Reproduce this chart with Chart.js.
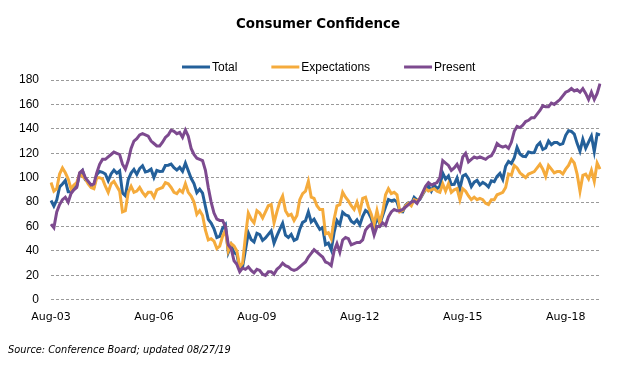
<!DOCTYPE html>
<html>
<head>
<meta charset="utf-8">
<script src="https://cdn.jsdelivr.net/npm/chart.js@4.4.1/dist/chart.umd.min.js"></script>
<style>
  html, body { margin: 0; padding: 0; background: #fff; }
  #wrap { position: relative; width: 626px; height: 367px; }
  #source {
    position: absolute; left: 8px; top: 344px;
    font: italic 9.8px 'DejaVu Sans', sans-serif; color: #000;
  }
</style>
</head>
<body>
<div id="wrap">
  <canvas id="cConf" width="626" height="367"></canvas>
  <div id="source">Source: Conference Board; updated 08/27/19</div>
</div>
<script>
/* ── Datos: mensual, Aug-03 a Aug-19 ─────── */
const MON = ['Jan','Feb','Mar','Apr','May','Jun','Jul','Aug','Sep','Oct','Nov','Dec'];
const months = [];
for (let i = 0; i < 193; i++) {
  const m = (7 + i) % 12, y = 2003 + Math.floor((7 + i) / 12);
  months.push(MON[m] + '-' + String(y % 100).padStart(2, '0'));
}
const tickLabels = ['Aug-03','Aug-06','Aug-09','Aug-12','Aug-15','Aug-18'];

const total = [
  81.3, 76.8, 81.7, 92.5, 94.8,
  97.7, 88.5, 88.5, 93.0, 93.1, 102.8, 105.7, 98.2, 96.7, 92.9, 92.6, 102.7,
  105.1, 104.4, 103.0, 97.5, 103.1, 106.2, 103.6, 105.5, 87.5, 85.2, 98.3, 103.8,
  106.8, 102.7, 107.5, 109.8, 104.7, 105.4, 107.0, 100.2, 105.9, 105.1, 105.3, 110.0,
  110.2, 111.2, 108.2, 106.3, 108.5, 105.3, 111.9, 105.6, 99.5, 95.2, 87.8, 90.6,
  87.3, 76.4, 65.9, 62.8, 58.1, 51.0, 51.9, 58.5, 61.4, 38.8, 44.7, 38.6,
  37.4, 25.3, 26.9, 40.8, 54.8, 49.3, 47.4, 54.5, 53.4, 48.7, 50.6, 53.6,
  56.5, 46.4, 52.3, 57.7, 62.7, 52.9, 51.0, 53.5, 48.6, 49.9, 57.8, 63.4,
  64.8, 72.0, 63.8, 66.0, 61.7, 57.6, 59.2, 45.2, 46.4, 40.9, 55.2, 64.8,
  61.5, 71.6, 69.5, 68.7, 64.4, 62.7, 65.4, 61.3, 68.4, 73.1, 71.5, 66.7,
  58.4, 68.0, 61.9, 69.0, 76.2, 82.1, 81.0, 81.8, 80.2, 72.4, 72.0, 77.5,
  79.4, 78.3, 83.9, 81.7, 82.2, 86.4, 90.3, 93.4, 89.0, 94.1, 91.0, 93.1,
  103.8, 98.8, 101.4, 94.3, 94.6, 99.8, 91.0, 101.3, 102.6, 99.1, 92.6, 96.3,
  97.8, 94.0, 96.1, 94.7, 92.4, 97.4, 96.7, 101.1, 103.5, 98.6, 109.4, 113.3,
  111.6, 116.1, 124.9, 119.4, 117.6, 117.3, 121.1, 120.4, 120.6, 126.2, 128.6, 123.1,
  124.3, 130.0, 127.0, 128.8, 128.8, 127.1, 127.9, 134.7, 138.4, 137.9, 135.7, 128.1,
  121.7, 131.4, 124.2, 129.2, 134.1, 121.5, 135.8, 135.1
];

const expectations = [
  96, 89, 91, 103, 108, 104, 99, 91, 94, 96, 103, 101, 99, 95, 92, 91,
  100, 100, 99, 93, 88, 95, 97, 93, 89, 72, 73, 88, 93, 88, 89, 92,
  88, 85, 88, 88, 84, 90, 91, 92, 96, 95, 92, 88, 87, 90, 88, 95,
  88, 85, 80, 70, 73, 69, 57, 49, 50, 48, 42, 44, 52, 57, 40, 46, 44,
  40, 27, 30, 52, 71, 66, 63, 73, 71, 67, 72, 77, 78, 63, 72, 80,
  85, 73, 69, 70, 65, 69, 82, 87, 89, 97, 84, 83, 77, 74,
  74, 54, 55, 50, 66, 77, 78, 88, 84, 81, 77, 74, 80, 72, 83, 84,
  76, 70, 62, 73, 63, 72, 86, 91, 87, 88, 86, 72, 73, 77, 79, 77,
  82, 81, 83, 87, 91, 89, 90, 91, 89, 88, 95, 89, 95, 88, 90, 91,
  82, 91, 89, 85, 82, 84, 82, 83, 82, 79, 78, 82, 82, 86, 87, 88,
  92, 103, 102, 110, 108, 104, 102, 100, 103, 104, 105, 108, 111, 107, 101, 110,
  107, 104, 105, 105, 103, 107, 110, 115, 112, 103, 89, 102, 103, 99, 106, 97, 112, 107
];

const present = [
  62, 59, 72, 78, 82, 84, 80, 87, 90, 92, 104, 106, 100, 97, 94, 95,
  104, 111, 115, 115, 117, 119, 121, 120, 119, 111, 107, 114, 124, 130, 132, 135,
  136, 135, 134, 130, 128, 126, 126, 129, 133, 135, 139, 138, 136, 137, 133, 139,
  134, 124, 119, 116, 115, 114, 106, 92, 80, 71, 66, 65, 65, 60, 45, 42, 32,
  29, 23, 26, 25, 27, 24, 22, 25, 24, 21, 20, 23, 23, 21, 25, 27,
  30, 28, 27, 25, 24, 25, 27, 29, 31, 35, 38, 41, 39, 37,
  35, 31, 30, 28, 40, 46, 39, 49, 51, 50, 45, 46, 47, 47, 49, 57,
  60, 62, 53, 60, 60, 63, 61, 68, 72, 74, 73, 73, 74, 76, 78, 80,
  81, 79, 83, 88, 93, 96, 94, 95, 96, 100, 114, 112, 110, 106, 108, 111,
  106, 117, 120, 113, 115, 117, 116, 117, 116, 115, 117, 118, 122, 128, 126, 125,
  126, 124, 129, 138, 142, 141, 143, 146, 147, 149, 149, 152, 155, 159, 158, 158,
  161, 160, 162, 164, 167, 170, 171, 173, 171, 172, 170, 173, 169, 164, 170, 164, 169, 177
];

/* ── Título y leyenda a mano ─────────────── */
const header = {
  id: 'header',
  afterDraw(chart) {
    const ctx = chart.ctx;
    ctx.save();
    ctx.fillStyle = '#000';
    ctx.textBaseline = 'middle';

    ctx.font = "bold 13.4px 'DejaVu Sans', sans-serif";
    ctx.textAlign = 'center';
    ctx.fillText('Consumer Confidence', 318, 25);

    ctx.font = "12px 'Liberation Sans', Arial, sans-serif";
    ctx.textAlign = 'left';
    let x = 182;
    const y = 67;
    chart.data.datasets.forEach(ds => {
      ctx.strokeStyle = ds.borderColor;
      ctx.lineWidth = 3;
      ctx.lineCap = 'butt';
      ctx.beginPath(); ctx.moveTo(x, y); ctx.lineTo(x + 28, y); ctx.stroke();
      x += 30;
      ctx.fillText(ds.label, x, y + 1);
      x += ctx.measureText(ds.label).width + 34;
    });
    ctx.restore();
  }
};

/* ── Gráfico ─────────────────────────────── */
const line = (label, data, color, order) => ({
  label, data, order,
  borderColor: color, backgroundColor: color,
  borderWidth: 3, pointRadius: 0, tension: 0, fill: false
});

new Chart('cConf', {
  type: 'line',
  data: {
    labels: months,
    datasets: [
      line('Total', total, '#24609a', 2),
      line('Expectations', expectations, '#f5ab3c', 1),
      line('Present', present, '#7d4a8f', 0)
    ]
  },
  options: {
    responsive: false, animation: false,
    layout: { padding: { left: 7, right: 26, bottom: 40, top: 80 } },
    plugins: {
      title: { display: false },
      legend: { display: false },
      tooltip: { enabled: false }
    },
    scales: {
      x: {
        offset: false,
        grid: { display: false },
        border: { display: false },
        ticks: {
          autoSkip: false, maxRotation: 0, padding: 3, color: '#000',
          font: { family: "'DejaVu Sans', sans-serif", size: 11 },
          callback: (v, i) => tickLabels.includes(months[i]) ? months[i] : null
        }
      },
      y: {
        min: 0, max: 180,
        border: { display: false, dash: [3, 2] },
        grid: { color: '#9a9a9a', lineWidth: 1, drawTicks: false },
        ticks: {
          stepSize: 20, padding: 12, color: '#000',
          font: { family: "'Liberation Sans', Arial, sans-serif", size: 12 }
        }
      }
    }
  },
  plugins: [header]
});
</script>
</body>
</html>
